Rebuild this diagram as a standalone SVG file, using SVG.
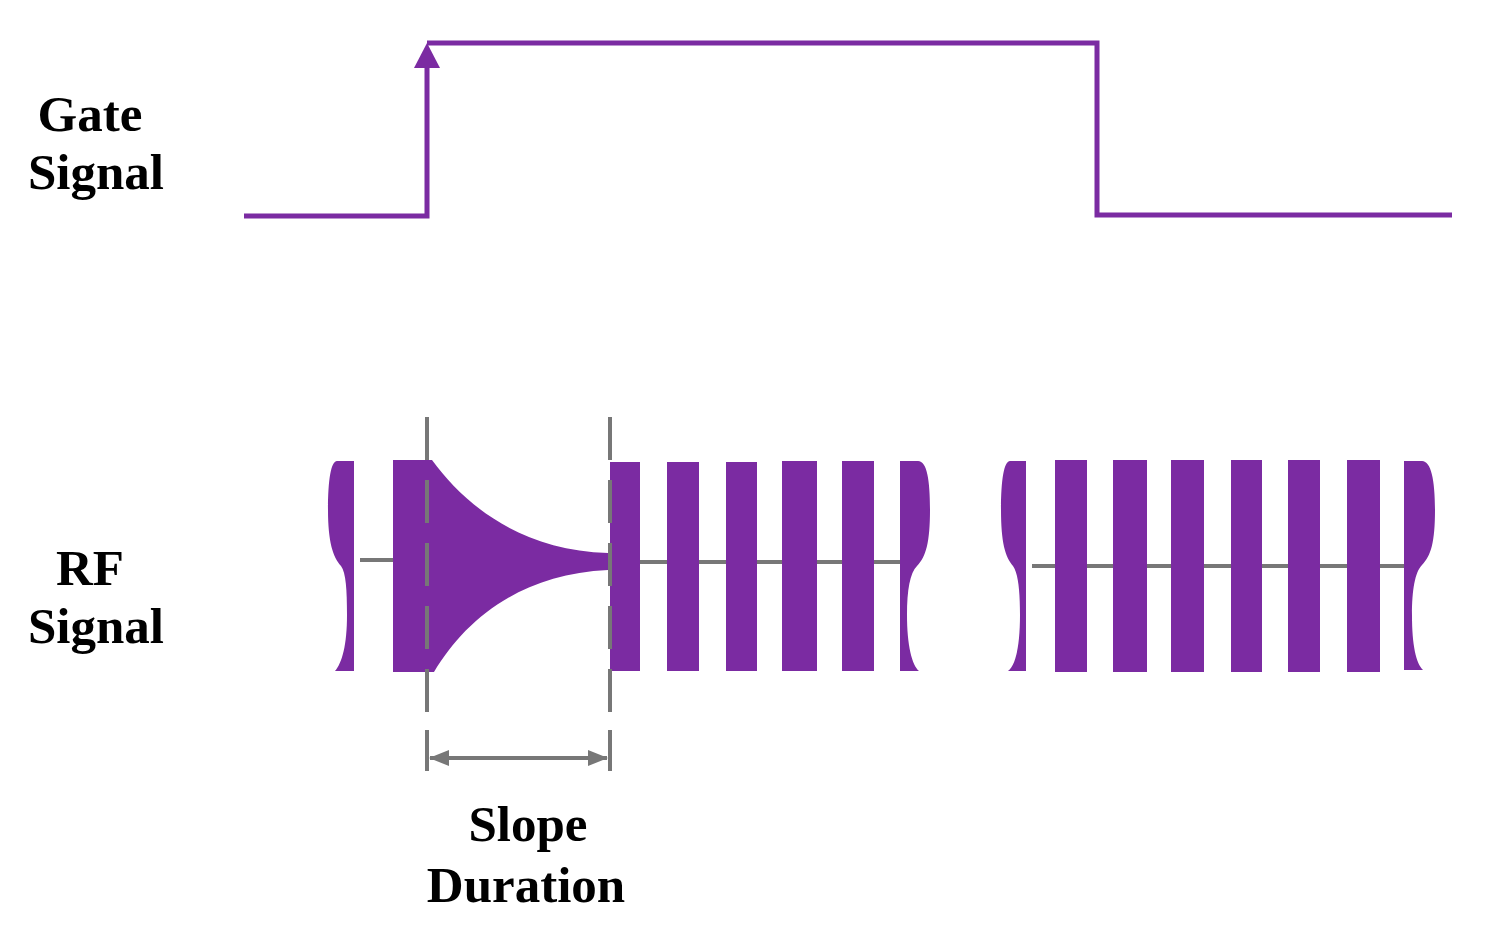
<svg xmlns="http://www.w3.org/2000/svg" width="1490" height="939" viewBox="0 0 1490 939">
<style>
.lbl{font-family:"Liberation Serif","Times New Roman",serif;font-weight:bold;font-size:51px;fill:#000;text-anchor:middle}
.gate{fill:none;stroke:#7B2BA2;stroke-width:5;stroke-linejoin:miter}
.rf{fill:#7B2BA2}
.axis{stroke:#777;stroke-width:4;fill:none}
.dash{stroke:#777;stroke-width:4;fill:none;stroke-dasharray:43 20}
</style>
<defs>
<marker id="dimArrow" viewBox="0 0 20 16" refX="19" refY="8" markerWidth="20" markerHeight="16" markerUnits="userSpaceOnUse" orient="auto-start-reverse">
<path d="M0,0 L20,8 L0,16 Z" fill="#777"/>
</marker>
</defs>
<rect width="1490" height="939" fill="#fff"/>

<g id="labels">
<text class="lbl" x="90" y="131">Gate</text>
<text class="lbl" x="96" y="189">Signal</text>
<text class="lbl" x="90" y="585">RF</text>
<text class="lbl" x="96" y="643">Signal</text>
<text class="lbl" x="528" y="841">Slope</text>
<text class="lbl" x="526" y="902">Duration</text>
</g>

<g id="gate-signal">
<path class="gate" d="M244,216 H427 V58 M427,43 H1097 V215 H1452"/>
<path d="M427,43 L414,68 L440,68 Z" fill="#7B2BA2"/>
</g>

<g id="rf-baselines">
<line class="axis" x1="360" y1="560" x2="395" y2="560"/>
<line class="axis" x1="605" y1="562" x2="902" y2="562"/>
<line class="axis" x1="1032" y1="566" x2="1406" y2="566"/>
</g>

<g id="rf-signal">
<path class="rf" d="M354,461 H337 C331,461 328,480 328,510 C328,542 333,557 341,566 C346,573 347,590 347,615 C347,645 342,663 335,671 H354 Z"/>
<path class="rf" d="M393,460 H432 C465,505 520,550 608,553 V570 C520,574 465,620 434,672 H393 Z"/>
<rect class="rf" x="610" y="462" width="30" height="209"/>
<rect class="rf" x="667" y="462" width="32" height="209"/>
<rect class="rf" x="726" y="462" width="31" height="209"/>
<rect class="rf" x="782" y="461" width="35" height="210"/>
<rect class="rf" x="842" y="461" width="32" height="210"/>
<path class="rf" d="M900,461 H918 C927,461 930,480 930,510 C930,542 926,557 917,566 C910,573 907,590 907,615 C907,645 912,665 919,671 H900 Z"/>
<path class="rf" d="M1026,461 H1010 C1004,461 1001,480 1001,510 C1001,542 1005,557 1013,566 C1018,573 1020,590 1020,615 C1020,645 1016,665 1008,671 H1026 Z"/>
<rect class="rf" x="1055" y="460" width="32" height="212"/>
<rect class="rf" x="1113" y="460" width="34" height="212"/>
<rect class="rf" x="1171" y="460" width="33" height="212"/>
<rect class="rf" x="1231" y="460" width="31" height="212"/>
<rect class="rf" x="1288" y="460" width="32" height="212"/>
<rect class="rf" x="1347" y="460" width="33" height="212"/>
<path class="rf" d="M1404,461 H1422 C1431,461 1435,480 1435,510 C1435,542 1431,556 1422,565 C1415,572 1412,590 1412,615 C1412,645 1416,663 1423,670 H1404 Z"/>
</g>

<g id="slope-markers">
<line class="dash" x1="427" y1="417" x2="427" y2="712"/>
<line class="dash" x1="610" y1="417" x2="610" y2="712"/>
</g>

<g id="dimension">
<line class="axis" x1="427" y1="730" x2="427" y2="771"/>
<line class="axis" x1="610" y1="730" x2="610" y2="771"/>
<line class="axis" x1="430" y1="758" x2="607" y2="758" marker-start="url(#dimArrow)" marker-end="url(#dimArrow)"/>
</g>
</svg>
